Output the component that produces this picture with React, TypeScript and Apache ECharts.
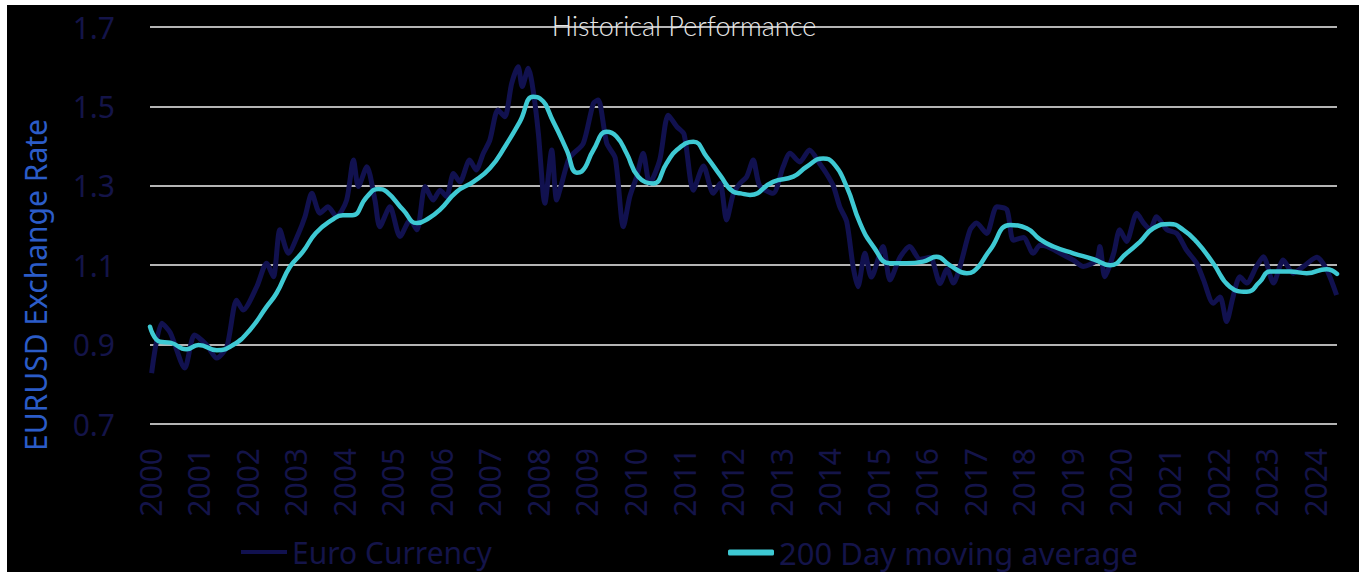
import React, { useEffect, useRef } from "react";
import * as echarts from "echarts";

// x positions are months since January 2000
const startYear = 2000;
const lastMonth = 293.4;

const fxMonths = [
  0.4, 2.9, 5, 8.6, 11, 14, 16.5, 19, 21.4, 23, 26.4, 28.8, 30.5, 32.1, 34.2, 36.7, 38.3, 40, 42, 44,
  46.1, 48.6, 50.3, 51.5, 53.6, 55.6, 56.8, 59.3, 61.8, 64.3, 66, 68, 70, 71.7, 73.3, 75, 76.6, 79, 80.6, 82.4,
  84, 86, 87.7, 89.4, 91, 92, 93.5, 94.7, 96, 97.6, 99.3, 100.5, 101.6, 103.4, 104.5, 107.1, 109.6, 110.8, 112.9, 115,
  117, 118.6, 120.3, 121.9, 123.5, 126, 128.1, 130.2, 132, 134.3, 136.8, 139.2, 140.9, 142.5, 144.2, 145.8, 147.5, 149.1, 150.7, 154,
  156.5, 158.2, 160.6, 163, 165.6, 167.2, 168.9, 170.5, 172.2, 173.8, 175, 176.7, 178.3, 181.2, 182.9, 185.4, 187.8, 190.3, 192.8, 195.3,
  197, 198.6, 200.3, 202.7, 204.3, 206.8, 209.3, 211.8, 213.4, 215.9, 218.3, 220, 221.7, 225, 228.2, 230.7, 234, 234.8, 236, 238.2,
  239.7, 241.4, 243.9, 245.6, 247.2, 248.8, 251.3, 253.8, 256.2, 258.7, 260.4, 262.8, 264.5, 266.1, 267.7, 269.4, 271.1, 273.5, 275.2, 277.7,
  280.1, 282.6, 285.1, 288.4, 290.8, 293.3,
];
const fxValues = [
  0.828, 0.954, 0.93, 0.841, 0.924, 0.899, 0.866, 0.895, 1.012, 0.987, 1.046, 1.105, 1.071, 1.189, 1.13, 1.18, 1.222, 1.281, 1.231, 1.247,
  1.222, 1.264, 1.365, 1.298, 1.348, 1.264, 1.197, 1.247, 1.172, 1.214, 1.189, 1.298, 1.264, 1.289, 1.273, 1.331, 1.31, 1.365, 1.34, 1.382,
  1.415, 1.491, 1.474, 1.558, 1.6, 1.55, 1.596, 1.541, 1.432, 1.256, 1.39, 1.264, 1.3, 1.365, 1.38, 1.407, 1.508, 1.516, 1.407, 1.37,
  1.197, 1.273, 1.323, 1.382, 1.306, 1.365, 1.478, 1.449, 1.43, 1.289, 1.35, 1.281, 1.306, 1.214, 1.28, 1.306, 1.323, 1.365, 1.3, 1.281,
  1.348, 1.382, 1.36, 1.39, 1.355, 1.331, 1.3, 1.247, 1.21, 1.096, 1.046, 1.13, 1.07, 1.147, 1.063, 1.12, 1.147, 1.115, 1.12, 1.054,
  1.09, 1.055, 1.1, 1.189, 1.206, 1.18, 1.247, 1.24, 1.163, 1.17, 1.13, 1.15, 1.147, 1.13, 1.113, 1.097, 1.113, 1.147, 1.071, 1.13,
  1.189, 1.16, 1.231, 1.206, 1.19, 1.222, 1.19, 1.18, 1.138, 1.105, 1.063, 1.004, 1.02, 0.958, 1.02, 1.071, 1.055, 1.097, 1.121, 1.055,
  1.113, 1.08, 1.097, 1.12, 1.09, 1.025,
];

const maMonths = [
  0, 2.5, 5, 9, 12, 16.5, 20.5, 24.7, 28.8, 31.3, 34.6, 37.8, 41, 45, 47.7, 50, 53.6, 56.4, 58.5, 62.6,
  66, 69, 71.7, 75.8, 79.9, 84, 88, 91.4, 94.7, 96.4, 99.7, 103, 105.5, 106.7, 109.6, 112.9, 115.3, 117.8, 120.7, 124.4,
  127.7, 130.2, 134.3, 137.6, 140.9, 144.2, 146, 148.3, 154, 159, 162.3, 166.4, 168.9, 172.2, 175.5, 178.8, 182.9, 187, 191.1, 194.4,
  197.7, 201.9, 203.5, 207.6, 212.6, 216.7, 220, 223.3, 228.2, 233.2, 237.3, 241.4, 244.7, 248, 252.1, 255.4, 258.7, 262.8, 266.9, 271.1,
  274.3, 276.8, 281.8, 285.9, 290.8, 293.4,
];
const maValues = [
  0.945, 0.907, 0.905, 0.888, 0.899, 0.886, 0.899, 0.937, 0.995, 1.03, 1.096, 1.134, 1.181, 1.214, 1.226, 1.226, 1.272, 1.292, 1.285, 1.239,
  1.206, 1.219, 1.24, 1.285, 1.31, 1.344, 1.403, 1.461, 1.524, 1.52, 1.461, 1.39, 1.333, 1.336, 1.39, 1.436, 1.424, 1.382, 1.323, 1.306,
  1.357, 1.39, 1.411, 1.373, 1.327, 1.285, 1.281, 1.277, 1.31, 1.323, 1.348, 1.369, 1.357, 1.298, 1.206, 1.147, 1.105, 1.105, 1.109, 1.121,
  1.1, 1.08, 1.084, 1.138, 1.201, 1.193, 1.165, 1.147, 1.13, 1.115, 1.1, 1.13, 1.159, 1.193, 1.204, 1.189, 1.159, 1.105, 1.046, 1.033,
  1.058, 1.084, 1.084, 1.08, 1.09, 1.078,
];

const yTicks = { min: 0.7, max: 1.7, interval: 0.2 };
const seriesNames = ["Euro Currency", "200 Day moving average"];

const NAVY = "#11114f";
const CYAN = "#3ec9d3";
const LABEL = "#141449";

export default function App() {
  const ref = useRef<HTMLDivElement>(null);
  useEffect(() => {
    if (!ref.current) return;
    const chart = echarts.init(ref.current, null, { renderer: "svg" });
    const fxData = fxMonths.map((m, i) => [m, fxValues[i]]);
    const maData = maMonths.map((m, i) => [m, maValues[i]]);
    chart.setOption({
      animation: false,
      backgroundColor: "#000000",
      textStyle: { fontFamily: "Noto Sans" },
      grid: { left: 143, right: 22, top: 22, bottom: 148 },
      graphic: [
        {
          type: "text",
          x: 677,
          y: 20,
          style: {
            text: "Historical Performance",
            fill: "#e6e6e6",
            font: "300 27px Lato",
            textAlign: "center",
            textVerticalAlign: "middle",
          },
          z: 100,
        },
        {
          type: "text",
          x: 28,
          y: 280,
          rotation: Math.PI / 2,
          style: {
            text: "EURUSD Exchange Rate",
            fill: "#2b5cc8",
            font: "30px Noto Sans",
            textAlign: "center",
            textVerticalAlign: "middle",
          },
        },
      ],
      legend: [
        {
          data: [{ name: seriesNames[0], icon: "rect" }],
          left: 229,
          top: 527,
          itemWidth: 46,
          itemHeight: 4,
          textStyle: { color: LABEL, fontSize: 30, fontFamily: "Noto Sans" },
        },
        {
          data: [{ name: seriesNames[1], icon: "roundRect" }],
          left: 716,
          top: 527,
          itemWidth: 46,
          itemHeight: 6,
          textStyle: { color: LABEL, fontSize: 31, fontFamily: "Noto Sans" },
        },
      ],
      xAxis: {
        type: "value",
        min: 0,
        max: lastMonth,
        interval: 12,
        axisLine: { show: false },
        axisTick: { show: false },
        splitLine: { show: false },
        axisLabel: {
          rotate: 90,
          margin: 24,
          color: LABEL,
          fontSize: 30,
          fontFamily: "Noto Sans",
          showMaxLabel: false,
          formatter: (v: number) => {
            const r = Math.round(v);
            if (Math.abs(v - r) > 1e-6 || r % 12 !== 0) return "";
            return String(startYear + r / 12);
          },
        },
      },
      yAxis: {
        type: "value",
        min: yTicks.min,
        max: yTicks.max,
        interval: yTicks.interval,
        axisLine: { show: false },
        axisTick: { show: false },
        axisLabel: {
          margin: 35,
          color: LABEL,
          fontSize: 30,
          fontFamily: "Noto Sans",
          formatter: (v: number) => (Math.round(v * 10) / 10).toFixed(1),
        },
        splitLine: { lineStyle: { color: "#b4b4b4", width: 2 } },
      },
      series: [
        {
          name: seriesNames[0],
          type: "line",
          data: fxData,
          showSymbol: false,
          smooth: 0.25,
          lineStyle: { color: NAVY, width: 5 },
          itemStyle: { color: NAVY },
          z: 2,
        },
        {
          name: seriesNames[1],
          type: "line",
          data: maData,
          showSymbol: false,
          smooth: 0.5,
          lineStyle: { color: CYAN, width: 4.5, cap: "round" },
          itemStyle: { color: CYAN },
          z: 3,
        },
      ],
    });
    return () => chart.dispose();
  }, []);
  return (
    <div
      ref={ref}
      style={{ position: "absolute", left: 7, top: 5, width: 1352, height: 567 }}
    />
  );
}
